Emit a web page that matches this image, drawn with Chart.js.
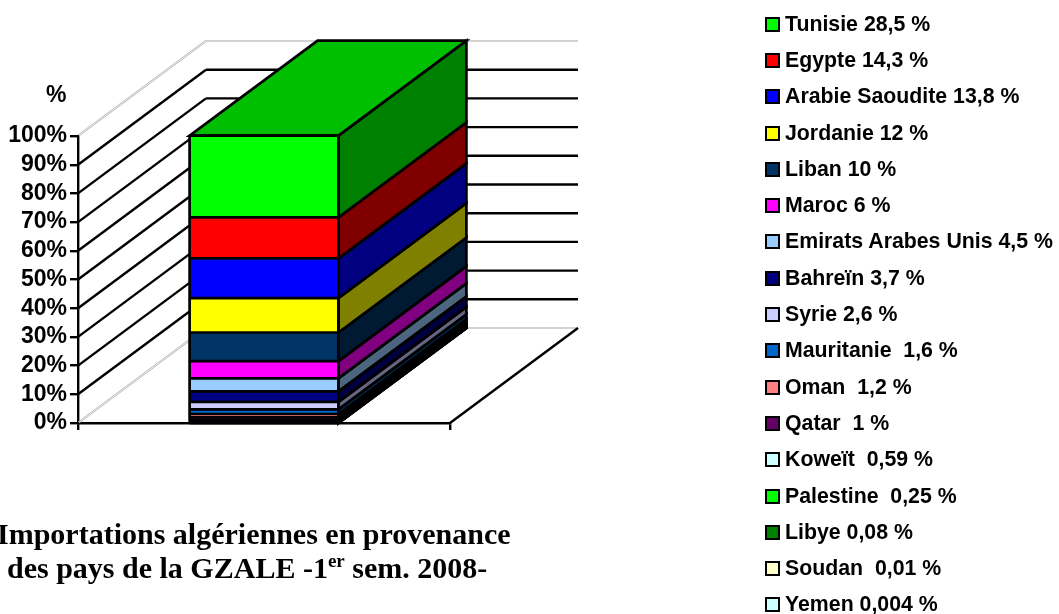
<!DOCTYPE html>
<html lang="fr">
<head>
<meta charset="utf-8">
<title>Importations algériennes GZALE</title>
<script src="https://cdn.jsdelivr.net/npm/chart.js@4/dist/chart.umd.min.js"></script>
<style>
  html, body { margin: 0; padding: 0; background: #fff; overflow: hidden; }
  #wrap { position: relative; width: 1059px; height: 614px; overflow: hidden; }
  #pct { position: absolute; left: 46px; top: 81px; font: bold 23px "Liberation Sans", Arial, sans-serif; }
  #title {
    position: absolute; left: -3px; top: 517px; white-space: nowrap;
    font: bold 30px/34px "Liberation Serif", "Times New Roman", serif;
  }
  #title div + div { margin-left: 10px; }
  #title sup { font-size: 19px; line-height: 0; }
  #legend { position: absolute; left: 765px; top: 6px; margin: 0; padding: 0; list-style: none; }
  #legend li {
    height: 36.3px; display: flex; align-items: center; white-space: pre;
    font: bold 21.3px "Liberation Sans", Arial, sans-serif;
  }
  #legend i { width: 11px; height: 11px; border: 2px solid #000; margin-right: 5px; flex: none; }
</style>
</head>
<body>
<div id="wrap">
  <canvas id="chart" width="1059" height="614"></canvas>
  <div id="pct">%</div>
  <div id="title"><div>Importations algériennes en provenance</div><div>des pays de la GZALE -1<sup>er</sup> sem. 2008-</div></div>
  <ul id="legend"></ul>
</div>
<script>
// du haut vers le bas de la légende
const COUNTRIES = ['Tunisie', 'Egypte', 'Arabie Saoudite', 'Jordanie', 'Liban', 'Maroc', 'Emirats Arabes Unis',
  'Bahreïn', 'Syrie', 'Mauritanie', 'Oman', 'Qatar', 'Koweït', 'Palestine', 'Libye', 'Soudan', 'Yemen'];
const SHARES = [28.5, 14.3, 13.8, 12, 10, 6, 4.5, 3.7, 2.6, 1.6, 1.2, 1, 0.59, 0.25, 0.08, 0.01, 0.004];
const LEGEND_TEXT = ['Tunisie 28,5 %', 'Egypte 14,3 %', 'Arabie Saoudite 13,8 %', 'Jordanie 12 %', 'Liban 10 %',
  'Maroc 6 %', 'Emirats Arabes Unis 4,5 %', 'Bahreïn 3,7 %', 'Syrie 2,6 %', 'Mauritanie  1,6 %', 'Oman  1,2 %',
  'Qatar  1 %', 'Koweït  0,59 %', 'Palestine  0,25 %', 'Libye 0,08 %', 'Soudan  0,01 %', 'Yemen 0,004 %'];
const COLORS = ['#00ff00', '#ff0000', '#0000ff', '#ffff00', '#003366', '#ff00ff', '#99ccff', '#000080', '#ccccff',
  '#0066cc', '#ff8080', '#660066', '#ccffff', '#00ff00', '#008000', '#ffffcc', '#ccffff'];
const CATEGORIES = ['GZALE'];
const Y_TICKS = [0, 10, 20, 30, 40, 50, 60, 70, 80, 90, 100];

// profondeur de la fausse 3D
const DEPTH_X = 128;
const DEPTH_Y = -95;
const EDGE_WIDTH = 2.7;
const WALL_WIDTH = 2.4;

function shade(hex, k) {
  const n = parseInt(hex.slice(1), 16);
  const c = [n >> 16, (n >> 8) & 255, n & 255].map((v) => Math.round(v * k));
  return `rgb(${c[0]}, ${c[1]}, ${c[2]})`;
}

function line(ctx, x1, y1, x2, y2) {
  ctx.beginPath();
  ctx.moveTo(x1, y1);
  ctx.lineTo(x2, y2);
  ctx.stroke();
}

function poly(ctx, pts, fill) {
  ctx.beginPath();
  pts.forEach((p, i) => (i ? ctx.lineTo(p[0], p[1]) : ctx.moveTo(p[0], p[1])));
  ctx.closePath();
  ctx.fillStyle = fill;
  ctx.fill();
  ctx.strokeStyle = '#000';
  ctx.lineWidth = EDGE_WIDTH;
  ctx.stroke();
}

// murs, sol et faces latérale / supérieure, à partir des échelles du graphique
const box3d = {
  id: 'box3d',
  beforeDatasetsDraw(chart) {
    const { ctx, scales, chartArea } = chart;
    const { left, right } = chartArea;
    const y = scales.y;
    ctx.save();

    Y_TICKS.forEach((t) => {
      const py = y.getPixelForValue(t);
      const edge = t === 0 || t === 100;
      if (edge) {
        // arêtes claires doublées
        ctx.strokeStyle = '#b8b8b8';
        ctx.lineWidth = 1;
        line(ctx, left, py - 1, left + DEPTH_X, py + DEPTH_Y - 1);
        line(ctx, left + 1, py, left + DEPTH_X + 1, py + DEPTH_Y);
      } else {
        ctx.strokeStyle = '#000';
        ctx.lineWidth = WALL_WIDTH;
        line(ctx, left, py, left + DEPTH_X, py + DEPTH_Y);
      }
      ctx.strokeStyle = edge ? '#c4c4c4' : '#000';
      ctx.lineWidth = edge ? 1.5 : WALL_WIDTH;
      line(ctx, left + DEPTH_X, py + DEPTH_Y, right + DEPTH_X, py + DEPTH_Y);
    });
    const floor = y.getPixelForValue(0);
    ctx.strokeStyle = '#000';
    ctx.lineWidth = WALL_WIDTH;
    line(ctx, right, floor, right + DEPTH_X, floor + DEPTH_Y);

    chart.data.datasets.forEach((ds, i) => {
      const bar = chart.getDatasetMeta(i).data[0];
      const half = bar.width / 2;
      const xr = bar.x + half;
      const top = bar.y;
      const bottom = bar.base;
      poly(ctx, [[xr, bottom], [xr, top], [xr + DEPTH_X, top + DEPTH_Y], [xr + DEPTH_X, bottom + DEPTH_Y]],
        shade(ds.backgroundColor, 0.5));
      if (i === chart.data.datasets.length - 1) {
        poly(ctx, [[bar.x - half, top], [xr, top], [xr + DEPTH_X, top + DEPTH_Y], [bar.x - half + DEPTH_X, top + DEPTH_Y]],
          shade(ds.backgroundColor, 0.75));
      }
    });
    ctx.restore();
  },
  // filets noirs de la face avant
  afterDatasetsDraw(chart) {
    const { ctx } = chart;
    const count = chart.data.datasets.length;
    ctx.save();
    ctx.strokeStyle = '#000';
    ctx.lineWidth = EDGE_WIDTH;
    chart.data.datasets.forEach((ds, i) => {
      const bar = chart.getDatasetMeta(i).data[0];
      const half = bar.width / 2;
      line(ctx, bar.x - half, bar.y, bar.x + half, bar.y);
      if (i === 0) {
        line(ctx, bar.x - half, bar.base, bar.x + half, bar.base);
      }
      if (i === count - 1) {
        const base = chart.getDatasetMeta(0).data[0].base;
        line(ctx, bar.x - half, bar.y, bar.x - half, base);
        line(ctx, bar.x + half, bar.y, bar.x + half, base);
      }
    });
    ctx.restore();
  },
};

function renderLegend() {
  const list = document.getElementById('legend');
  LEGEND_TEXT.forEach((text, i) => {
    const li = document.createElement('li');
    const box = document.createElement('i');
    box.style.background = COLORS[i];
    li.appendChild(box);
    li.appendChild(document.createTextNode(text));
    list.appendChild(li);
  });
}

function renderChart() {
  // empilement : le dernier de la légende en bas
  const datasets = COUNTRIES.map((name, i) => ({
    label: name,
    data: [SHARES[i]],
    backgroundColor: COLORS[i],
    borderWidth: 0,
    barPercentage: 0.4,
    categoryPercentage: 1,
  })).reverse();

  new Chart(document.getElementById('chart'), {
    type: 'bar',
    data: { labels: CATEGORIES, datasets },
    plugins: [box3d],
    options: {
      responsive: false,
      animation: false,
      layout: { padding: { top: 136, right: 609, bottom: 0, left: 0 } },
      plugins: { legend: { display: false }, title: { display: false }, tooltip: { enabled: false } },
      scales: {
        x: {
          stacked: true,
          offset: true,
          border: { color: '#000', width: 2.4 },
          grid: { drawOnChartArea: false, color: '#000', lineWidth: 2.4, tickLength: 7, offset: true },
          ticks: { display: false },
          afterFit(scale) {
            scale.height = 191;
            scale.paddingLeft = 0;
            scale.paddingRight = 0;
          },
        },
        y: {
          stacked: true,
          min: 0,
          max: 100,
          border: { color: '#000', width: 2.4 },
          grid: { drawOnChartArea: false, color: '#000', lineWidth: 2.4, tickLength: 8 },
          ticks: {
            stepSize: 10,
            autoSkip: false,
            color: '#000',
            padding: 3,
            font: { family: '"Liberation Sans", Arial, sans-serif', size: 23, weight: 'bold' },
            callback: (v) => `${v}%`,
          },
          afterFit(scale) {
            scale.width = 78;
            scale.paddingTop = 0;
            scale.paddingBottom = 0;
          },
        },
      },
    },
  });
}

renderLegend();
renderChart();
</script>
</body>
</html>
